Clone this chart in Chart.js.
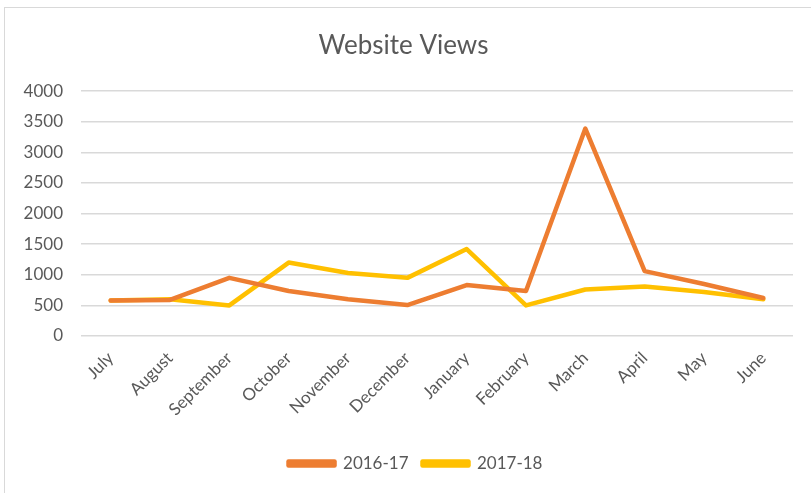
<!DOCTYPE html>
<html>
<head>
<meta charset="utf-8">
<script src="https://cdn.jsdelivr.net/npm/chart.js@4/dist/chart.umd.min.js"></script>
<style>
  html, body { margin: 0; padding: 0; background: #fff; }
  #wrap { position: relative; width: 811px; height: 493px; }
  #frame { position: absolute; left: 4px; top: 7px; right: -2px; bottom: -2px; border: 1px solid #d9d9d9; }
  canvas { position: absolute; left: 0; top: 0; }
</style>
</head>
<body>
<div id="wrap">
  <div id="frame"></div>
  <canvas id="c" width="811" height="493"></canvas>
</div>
<script>
const months = ["July","August","September","October","November","December","January","February","March","April","May","June"];
const views2016 = [580, 590, 950, 735, 600, 506, 833, 735, 3390, 1060, 850, 620];
const views2017 = [580, 600, 500, 1200, 1030, 950, 1420, 500, 760, 810, 720, 600];
const yTicks = [0, 500, 1000, 1500, 2000, 2500, 3000, 3500, 4000];

const FONT = "Lato, 'Open Sans', sans-serif";
const TXT = "#595959";

const legendShift = {
  id: "legendShift",
  afterLayout(chart) {
    const lg = chart.legend;
    if (lg) { lg.left += 12; lg.right += 12; }
  }
};

new Chart(document.getElementById("c"), {
  type: "line",
  data: {
    labels: months,
    datasets: [
      { label: "2016-17", data: views2016, borderColor: "#ED7D31", backgroundColor: "#ED7D31", borderWidth: 4.5, pointRadius: 0, tension: 0, borderCapStyle: "round", borderJoinStyle: "round" },
      { label: "2017-18", data: views2017, borderColor: "#FFC000", backgroundColor: "#FFC000", borderWidth: 4.5, pointRadius: 0, tension: 0, borderCapStyle: "round", borderJoinStyle: "round" }
    ]
  },
  plugins: [legendShift],
  options: {
    responsive: false,
    animation: false,
    layout: { padding: { left: 14, right: 18, top: 0, bottom: 11 } },
    plugins: {
      title: { display: true, text: "Website Views", color: TXT, font: { family: FONT, size: 26, weight: "normal" }, padding: { top: 30, bottom: 30 } },
      legend: {
        position: "bottom",
        labels: { color: TXT, font: { family: FONT, size: 17 }, boxWidth: 46, boxHeight: 4, padding: 14 }
      },
      tooltip: { enabled: false }
    },
    scales: {
      x: {
        offset: true,
        grid: { display: false },
        border: { display: false },
        ticks: { color: TXT, font: { family: FONT, size: 17 }, minRotation: 45, maxRotation: 45, padding: 4 },
        afterFit: (s) => { s.height = 105; }
      },
      y: {
        min: 0, max: 4000,
        afterBuildTicks: (s) => { s.ticks = yTicks.map(v => ({ value: v })); },
        grid: { color: "#d9d9d9", lineWidth: 1.5, drawTicks: false },
        border: { display: false },
        ticks: { color: TXT, font: { family: FONT, size: 17 }, padding: 18, callback: (v) => String(v) },
        afterFit: (s) => { s.width = 67; }
      }
    }
  }
});
</script>
</body>
</html>
